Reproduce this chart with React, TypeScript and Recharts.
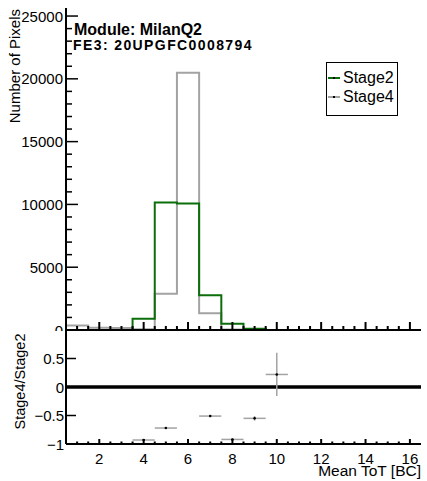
import React from 'react';
import { ComposedChart, Line, XAxis, YAxis, Scatter, ErrorBar, ReferenceLine, Legend } from 'recharts';

// histogram bins (bin width 1, centred on integers)
const binCenters = [1, 2, 3, 4, 5, 6, 7, 8, 9, 10, 11, 12, 13, 14, 15, 16];
const stage2Counts = [0, 0, 0, 890, 10150, 10080, 2775, 490, 95, 5, 0, 0, 0, 0, 0, 0];
const stage4Counts = [360, 170, 150, 60, 2880, 20480, 1340, 35, 43, 6, 0, 0, 0, 0, 0, 0];

// ratio pad (only points inside the -1..1 range are visible)
const ratioBins = [4, 5, 7, 8, 9, 10];
const ratioValues = [-0.93, -0.72, -0.51, -0.92, -0.55, 0.22];
const ratioErrors = [0.01, 0.01, 0.02, 0.02, 0.04, 0.38];

const countMajorTicks = [0, 5000, 10000, 15000, 20000, 25000];
const ratioTicks = [-1, -0.5, 0, 0.5];
const totLabels = [2, 4, 6, 8, 10, 12, 14, 16];

const FONT = '"Liberation Sans", Arial, Helvetica, sans-serif';
const GREEN = '#0b6e0b';
const GREY = '#a3a3a3';

const countTicks = Array.from({ length: 26 }, (_, i) => i * 1000);
const totTicks = Array.from({ length: 31 }, (_, i) => 1 + i * 0.5);

// bin edges for a step outline
const histData = binCenters.map((c, i) => ({ x: c - 0.5, s2: stage2Counts[i], s4: stage4Counts[i] }));
histData.push({
    x: binCenters[binCenters.length - 1] + 0.5,
    s2: stage2Counts[stage2Counts.length - 1],
    s4: stage4Counts[stage4Counts.length - 1],
});

const ratioData = ratioBins.map((b, i) => ({ x: b, y: ratioValues[i], ex: 0.5, ey: ratioErrors[i] }));

const fmt = (v: number) => (v < 0 ? '\u2212' + Math.abs(v) : String(v));

const CountTick = (props: any) => {
    const { x, y, payload } = props;
    const major = countMajorTicks.includes(payload.value);
    return (
        <g>
            <path d={`M${x},${y}H${x + (major ? 12 : 6)}`} stroke="#000" strokeWidth={1.5} fill="none" />
            {major && (
                <text x={x - 3} y={y} textAnchor="end" dominantBaseline="central" fontSize={15} fill="#000">
                    {payload.value}
                </text>
            )}
        </g>
    );
};

const TopXTick = (props: any) => {
    const { x, y, payload } = props;
    const major = totLabels.includes(payload.value);
    const len = major ? 8 : 4;
    return <path d={`M${x},${y}V${y - len}`} stroke="#000" strokeWidth={2} fill="none" />;
};

const RatioXTick = (props: any) => {
    const { x, y, payload } = props;
    const major = totLabels.includes(payload.value);
    const len = major ? 5 : 2.5;
    return (
        <g>
            <path d={`M${x},${y}V${y - len}`} stroke="#000" strokeWidth={2} fill="none" />
            {major && (
                <text x={x} y={y + 14} textAnchor="middle" dominantBaseline="central" fontSize={15} fill="#000">
                    {payload.value}
                </text>
            )}
        </g>
    );
};

const RatioYTick = (props: any) => {
    const { x, y, payload } = props;
    return (
        <g>
            <path d={`M${x},${y}H${x + 10}`} stroke="#000" strokeWidth={1.5} fill="none" />
            <text x={x - 2} y={y} textAnchor="end" dominantBaseline="central" fontSize={15} fill="#000">
                {fmt(payload.value)}
            </text>
        </g>
    );
};

const legendItems = [
    { name: 'Stage2', color: GREEN },
    { name: 'Stage4', color: GREY },
];

const LegendBox = () => (
    <div
        style={{
            boxSizing: 'border-box',
            width: 72,
            height: 54,
            border: '1.5px solid #000',
            background: '#fff',
            paddingTop: 5,
            fontFamily: FONT,
            fontSize: 16,
        }}
    >
        {legendItems.map((it) => (
            <div key={it.name} style={{ display: 'flex', alignItems: 'center', height: 19 }}>
                <span style={{ position: 'relative', width: 12, height: 2, marginLeft: 1, background: it.color }}>
                    <span style={{ position: 'absolute', left: 5, top: 0, width: 2, height: 2, background: '#000' }} />
                </span>
                <span style={{ marginLeft: 3, lineHeight: '19px' }}>{it.name}</span>
            </div>
        ))}
    </div>
);

const frame = { stroke: '#000', strokeWidth: 2 };

export default function App() {
    return (
        <div style={{ position: 'absolute', left: 0, top: 0, width: 427, height: 481, background: '#fff', fontFamily: FONT }}>
            <div style={{ position: 'absolute', left: 0, top: 0 }}>
                <ComposedChart width={427} height={331} data={histData} margin={{ top: 8, right: 6, bottom: 0, left: 0 }} style={{ fontFamily: FONT }}>
                    <XAxis
                        dataKey="x"
                        type="number"
                        domain={[0.5, 16.5]}
                        ticks={totTicks}
                        interval={0}
                        height={1}
                        tickSize={0}
                        tickMargin={0}
                        tickLine={false}
                        tick={<TopXTick />}
                        axisLine={frame}
                        allowDataOverflow
                    />
                    <XAxis xAxisId="top" orientation="top" type="number" domain={[0.5, 16.5]} height={0} tick={false} tickLine={false} axisLine={frame} />
                    <YAxis
                        type="number"
                        domain={[0, 25640]}
                        ticks={countTicks}
                        interval={0}
                        width={66}
                        tickSize={0}
                        tickMargin={0}
                        tickLine={false}
                        tick={<CountTick />}
                        axisLine={frame}
                        allowDataOverflow
                    />
                    <YAxis yAxisId="right" orientation="right" width={0} tick={false} tickLine={false} axisLine={frame} />
                    <Line dataKey="s4" name="Stage4" type="stepAfter" stroke={GREY} strokeWidth={2} dot={false} isAnimationActive={false} />
                    <Line dataKey="s2" name="Stage2" type="stepAfter" stroke={GREEN} strokeWidth={2} dot={false} isAnimationActive={false} />
                    <Legend
                        layout="vertical"
                        align="center"
                        verticalAlign="middle"
                        content={<LegendBox />}
                        wrapperStyle={{ left: 326, top: 62, width: 72, height: 54 }}
                    />
                    <text x={20} y={9} transform="rotate(-90, 20, 9)" textAnchor="end" fontSize={15} fill="#000">
                        Number of Pixels
                    </text>
                    <text x={74} y={35} fontSize={16} fontWeight="bold" fill="#000">
                        Module: MilanQ2
                    </text>
                    <text x={73} y={50} fontSize={14} fontWeight="bold" letterSpacing={1.4} fill="#000">
                        FE3: 20UPGFC0008794
                    </text>
                </ComposedChart>
            </div>
            <div style={{ position: 'absolute', left: 0, top: 328 }}>
                <ComposedChart width={427} height={153} margin={{ top: 2, right: 6, bottom: 0, left: 0 }} style={{ fontFamily: FONT }}>
                    <XAxis
                        dataKey="x"
                        type="number"
                        domain={[0.5, 16.5]}
                        ticks={totTicks}
                        interval={0}
                        height={37}
                        tickSize={0}
                        tickMargin={0}
                        tickLine={false}
                        tick={<RatioXTick />}
                        axisLine={frame}
                        allowDataOverflow
                    />
                    <XAxis xAxisId="top" orientation="top" type="number" domain={[0.5, 16.5]} height={0} tick={false} tickLine={false} axisLine={frame} />
                    <YAxis
                        dataKey="y"
                        type="number"
                        domain={[-1, 1]}
                        ticks={ratioTicks}
                        interval={0}
                        width={66}
                        tickSize={0}
                        tickMargin={0}
                        tickLine={false}
                        tick={<RatioYTick />}
                        axisLine={frame}
                        allowDataOverflow
                    />
                    <YAxis yAxisId="right" orientation="right" width={0} tick={false} tickLine={false} axisLine={frame} />
                    <ReferenceLine y={0} stroke="#000" strokeWidth={3.5} />
                    <Scatter
                        data={ratioData}
                        dataKey="y"
                        isAnimationActive={false}
                        shape={(p: any) => <circle cx={p.cx} cy={p.cy} r={1.3} fill="#000" />}
                    >
                        <ErrorBar dataKey="ex" direction="x" width={0} stroke={GREY} strokeWidth={1.5} isAnimationActive={false} />
                        <ErrorBar dataKey="ey" direction="y" width={0} stroke={GREY} strokeWidth={1.5} isAnimationActive={false} />
                    </Scatter>
                    <text x={25} y={53.5} transform="rotate(-90, 25, 53.5)" textAnchor="middle" fontSize={14.5} fill="#000">
                        Stage4/Stage2
                    </text>
                    <text x={421} y={148} textAnchor="end" fontSize={15.5} fill="#000">
                        Mean ToT [BC]
                    </text>
                </ComposedChart>
            </div>
        </div>
    );
}
